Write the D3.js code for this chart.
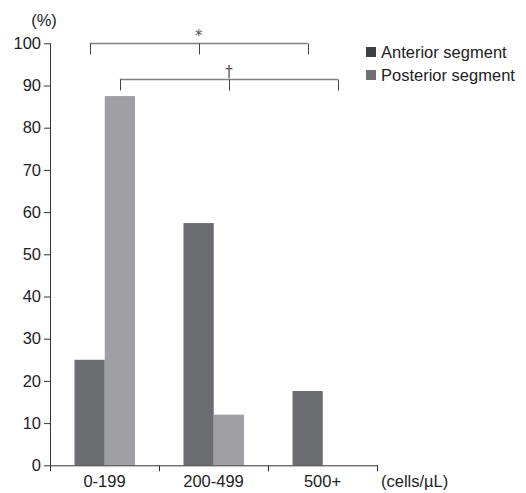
<!DOCTYPE html>
<html>
<head>
<meta charset="utf-8">
<script src="https://cdn.jsdelivr.net/npm/d3@7"></script>
<style>
  html, body { margin: 0; padding: 0; background: #fff; }
  svg { display: block; }
  text { font-family: "Liberation Sans", Arial, Helvetica, sans-serif; fill: #222; }
</style>
</head>
<body>
<svg id="chart" width="526" height="493"></svg>
<script>
const categories = ["0-199", "200-499", "500+"];
const seriesNames = ["Anterior segment", "Posterior segment"];
const anterior = [25, 57.4, 17.6];
const posterior = [87.5, 12, 0];
const yTicks = [0, 10, 20, 30, 40, 50, 60, 70, 80, 90, 100];
const barColors = ["#6b6c70", "#a0a0a4"];
const legendColors = ["#404042", "#707073"];

const svg = d3.select("#chart");
const x0 = d3.scaleBand().domain(categories).range([50, 377]).padding(0);
const x1 = d3.scaleBand().domain(seriesNames).range([24.5, 85]).padding(0);
const y = d3.scaleLinear().domain([0, 100]).range([465.3, 43.3]);

const values = [anterior, posterior];

// bars
const g = svg.append("g");
categories.forEach((c, i) => {
  seriesNames.forEach((s, j) => {
    const v = values[j][i];
    if (v <= 0) return;
    g.append("rect")
      .attr("x", x0(c) + x1(s))
      .attr("y", y(v))
      .attr("width", x1.bandwidth())
      .attr("height", y(0) - y(v))
      .attr("fill", barColors[j]);
  });
});

// y axis
const yAxis = svg.append("g")
  .attr("transform", "translate(50,0)")
  .call(d3.axisLeft(y).tickValues(yTicks).tickSize(6).tickPadding(3).tickFormat(d3.format("d")));
yAxis.select(".domain").attr("stroke", "#333").attr("d", `M0.5,${y(100)}V${y(0)}`);
yAxis.selectAll(".tick line").attr("stroke", "#333");
yAxis.selectAll(".tick text").style("font-size", "16.5px").attr("fill", "#222")
  .style("font-family", '"Liberation Sans", Arial, sans-serif');

// x axis
const xAxis = svg.append("g").attr("transform", `translate(0,${y(0)})`);
xAxis.append("line").attr("x1", 50).attr("x2", 377).attr("y1", 0.5).attr("y2", 0.5).attr("stroke", "#333");
const bounds = [x0.range()[0]].concat(categories.map(c => x0(c) + x0.bandwidth()));
bounds.forEach(b => {
  xAxis.append("line").attr("x1", b + 0.5).attr("x2", b + 0.5).attr("y1", 0).attr("y2", 6).attr("stroke", "#333");
});
categories.forEach(c => {
  xAxis.append("text")
    .attr("x", x0(c) + x0.bandwidth() / 2)
    .attr("y", 22)
    .attr("text-anchor", "middle")
    .style("font-size", "16.5px")
    .text(c);
});
xAxis.append("text").attr("x", 381).attr("y", 22).style("font-size", "16.5px").text("(cells/\u00b5L)");

// y unit
svg.append("text").attr("x", 44).attr("y", 26).attr("text-anchor", "middle").style("font-size", "16.5px").text("(%)");

// significance brackets
const brackets = [
  { series: 0, level: 100, symbol: "*" },
  { series: 1, level: 91.5, symbol: "\u2020" }
];
brackets.forEach(b => {
  const s = seriesNames[b.series];
  const xs = categories.map(c => x0(c) + x1(s) + x1.bandwidth() / 2);
  const yy = Math.round(y(b.level)) + 0.5;
  const bg = svg.append("g");
  bg.append("line").attr("x1", xs[0]).attr("x2", xs[2]).attr("y1", yy).attr("y2", yy)
    .attr("stroke", "#808080").attr("stroke-width", 1.3);
  xs.forEach(xx => {
    bg.append("line").attr("x1", Math.round(xx) + 0.5).attr("x2", Math.round(xx) + 0.5)
      .attr("y1", yy).attr("y2", yy + 11).attr("stroke", "#444").attr("stroke-width", 1);
  });
  bg.append("text").attr("x", xs[1]).attr("y", yy - 3).attr("text-anchor", "middle")
    .style("font-size", "15px").style("font-family", '"DejaVu Sans", sans-serif')
    .style("fill", "#555").text(b.symbol);
});

// legend
const leg = svg.append("g");
seriesNames.forEach((s, i) => {
  const ly = 52 + i * 23;
  leg.append("rect").attr("x", 366).attr("y", ly - 5).attr("width", 10).attr("height", 10).attr("fill", legendColors[i]);
  leg.append("text").attr("x", 381).attr("y", ly + 6).style("font-size", "16.5px").text(s);
});
</script>
</body>
</html>
